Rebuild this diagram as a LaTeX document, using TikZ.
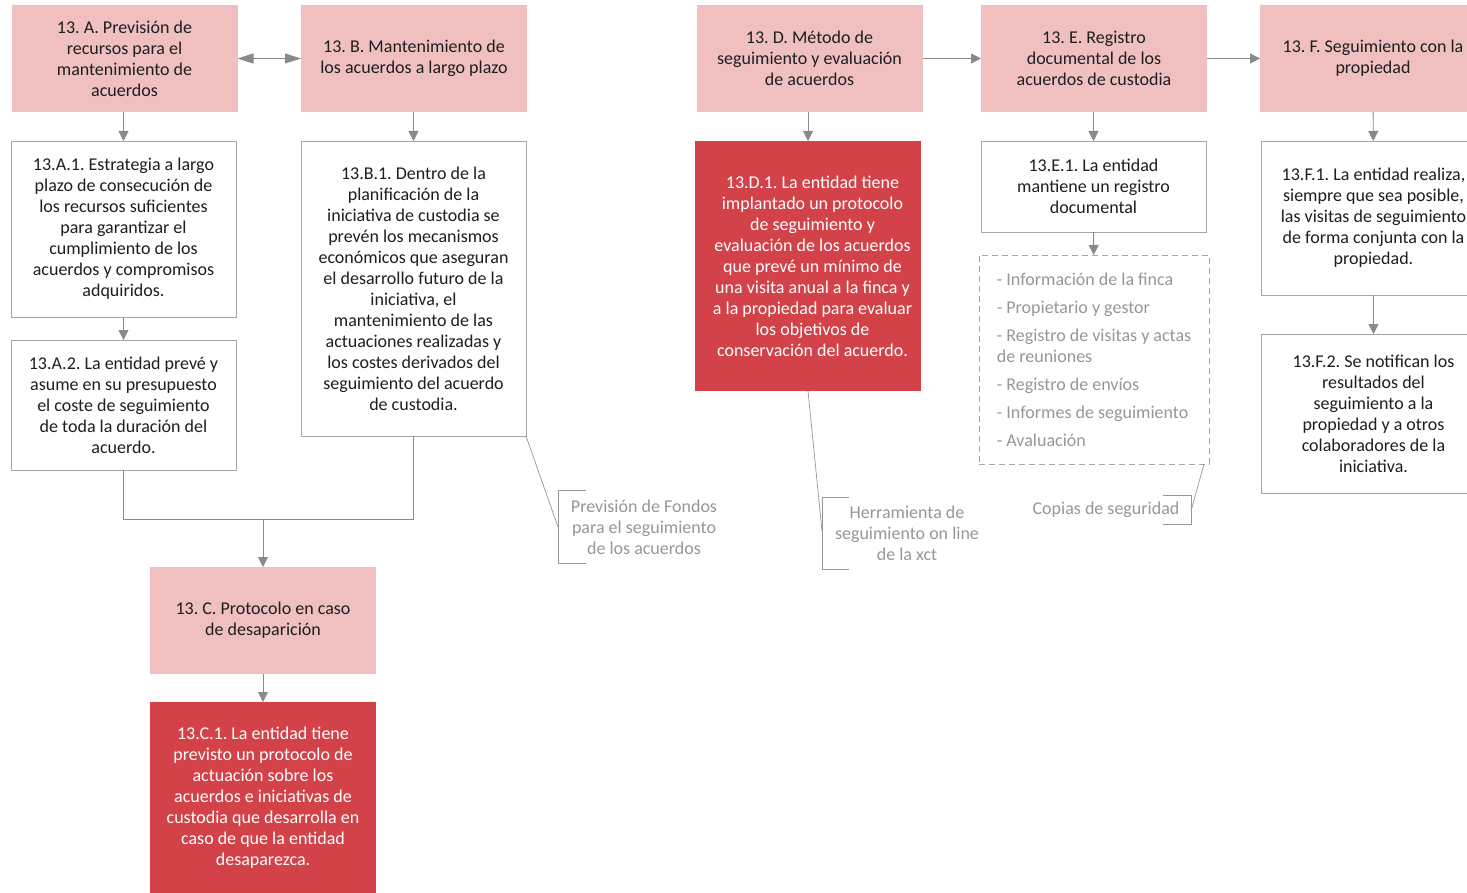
\documentclass[tikz,border=0pt]{standalone}
\usepackage{fontspec}
\setmainfont{Carlito}
\frenchspacing
\usetikzlibrary{arrows.meta}
\definecolor{hdrpink}{RGB}{240,192,193}
\definecolor{redbox}{RGB}{210,66,72}
\definecolor{edgegray}{RGB}{166,166,166}
\definecolor{arrowgray}{RGB}{137,137,137}
\definecolor{notegray}{RGB}{150,150,150}
\definecolor{inktext}{RGB}{30,30,30}

\begin{document}
\begin{tikzpicture}[x=1pt,y=-1pt,
  every node/.style={inner sep=0pt, outer sep=0pt, align=center,
    font=\fontsize{18}{21}\selectfont\frenchspacing},
  header/.style={fill=hdrpink, minimum width=226pt, minimum height=107pt, text=inktext},
  detail/.style={draw=edgegray, line width=0.9pt, fill=white, minimum width=225pt, text=inktext},
  measure/.style={fill=redbox, minimum width=226pt, text=white},
  flow/.style={draw=arrowgray, line width=0.9pt, -{Triangle[length=10pt,width=10pt]}},
  link/.style={draw=arrowgray, line width=0.9pt},
  note/.style={text=notegray},
  callout/.style={draw=notegray, line width=0.7pt},
]
\useasboundingbox (0,0) rectangle (1467,893);
\clip (0,0) rectangle (1467,893);

% ---- column headers
\node[header] (A) at (124.5,58.5) {13. A. Previsión de\\recursos para el\\mantenimiento de\\acuerdos};
\node[header] (B) at (414,58.5) {13. B. Mantenimiento de\\los acuerdos a largo plazo};
\node[header] (D) at (809.5,58.5) {13. D. Método de\\seguimiento y evaluación\\de acuerdos};
\node[header] (E) at (1094,58.5) {13. E. Registro\\documental de los\\acuerdos de custodia};
\node[header] (F) at (1373,58.5) {13. F. Seguimiento con la\\propiedad};
\node[header] (C) at (263,620.5) {13. C. Protocolo en caso\\de desaparición};

% ---- detail boxes
\node[detail, minimum height=176pt] (A1) at (123.5,229) {13.A.1. Estrategia a largo\\plazo de consecución de\\los recursos suficientes\\para garantizar el\\cumplimiento de los\\acuerdos y compromisos\\adquiridos.};
\node[detail, minimum height=130pt] (A2) at (123.5,405) {13.A.2. La entidad prevé y\\asume en su presupuesto\\el coste de seguimiento\\de toda la duración del\\acuerdo.};
\node[detail, minimum height=295pt] (B1) at (413.5,288.5) {13.B.1. Dentro de la\\planificación de la\\iniciativa de custodia se\\prevén los mecanismos\\económicos que aseguran\\el desarrollo futuro de la\\iniciativa, el\\mantenimiento de las\\actuaciones realizadas y\\los costes derivados del\\seguimiento del acuerdo\\de custodia.};
\node[detail, minimum height=91pt] (E1) at (1093.5,186.5) {13.E.1. La entidad\\mantiene un registro\\documental};
\node[detail, minimum height=154pt] (F1) at (1373.5,218) {13.F.1. La entidad realiza,\\siempre que sea posible,\\las visitas de seguimiento\\de forma conjunta con la\\propiedad.};
\node[detail, minimum height=159pt] (F2) at (1373.5,413.5) {13.F.2. Se notifican los\\resultados del\\seguimiento a la\\propiedad y a otros\\colaboradores de la\\iniciativa.};

% ---- highlighted measures
\node[measure, minimum height=250pt] (D1) at (808,266) {\hspace*{9pt}13.D.1. La entidad tiene\\\hspace*{9pt}implantado un protocolo\\\hspace*{9pt}de seguimiento y\\\hspace*{9pt}evaluación de los acuerdos\\\hspace*{9pt}que prevé un mínimo de\\\hspace*{9pt}una visita anual a la finca y\\\hspace*{9pt}a la propiedad para evaluar\\\hspace*{9pt}los objetivos de\\\hspace*{9pt}conservación del acuerdo.};
\node[measure, minimum height=191pt] (C1) at (263,797.5) {13.C.1. La entidad tiene\\previsto un protocolo de\\actuación sobre los\\acuerdos e iniciativas de\\custodia que desarrolla en\\caso de que la entidad\\desaparezca.};

% ---- document list
\node[draw=edgegray, dashed, dash pattern=on 6pt off 4pt, line width=0.9pt,
      minimum width=230pt, minimum height=209pt, align=left, text=notegray] (Elist) at (1094,359.5)
  {- Información de la finca\\[7pt]- Propietario y gestor\\[7pt]- Registro de visitas y actas\\de reuniones\\[7pt]- Registro de envíos\\[7pt]- Informes de seguimiento\\[7pt]- Avaluación};

% ---- connectors
\draw[draw=arrowgray, line width=0.9pt, {Triangle[length=16pt,width=10pt]}-{Triangle[length=16pt,width=10pt]}] (A) -- (B);
\draw[flow] (D) -- (E);
\draw[flow] (E) -- (F);
\draw[flow] (A1.north |- A.south) -- (A1.north);
\draw[flow] (A1) -- (A2);
\draw[flow] (B1.north |- B.south) -- (B1.north);
\draw[flow] (D1.north |- D.south) -- (D1.north);
\draw[flow] (E1.north |- E.south) -- (E1.north);
\draw[flow] (E1) -- (Elist);
\draw[flow] (F) -- (F1);
\draw[flow] (F1) -- (F2);
\draw[flow] (C) -- (C1);
\coordinate (join) at (263,519);
\draw[link] (A2.south) |- (join);
\draw[link] (B1.south) |- (join);
\draw[flow] (join) -- (C.north);

% ---- annotations
\node[note] (fondos) at (644,527) {Previsión de Fondos\\para el seguimiento\\de los acuerdos};
\coordinate (fondosTip) at (558,527);
\draw[callout] (586,490) -- (558,490) -- (558,563) -- (586,563);
\draw[callout] (B1.south east) -- (fondosTip);

\node[note] (herr) at (907,533) {Herramienta de\\seguimiento on line\\de la xct};
\coordinate (herrTip) at (822,531);
\draw[callout] (849,497) -- (822,497) -- (822,569) -- (849,569);
\draw[callout] (D1.south) -- (herrTip);

\node[note] (copias) at (1106,510) {Copias de seguridad};
\coordinate (copiasTip) at (1191,511);
\draw[callout] (1163,495) -- (1191,495) -- (1191,524) -- (1163,524);
\draw[callout] ([xshift=-5pt]Elist.south east) -- (copiasTip);
\end{tikzpicture}
\end{document}
